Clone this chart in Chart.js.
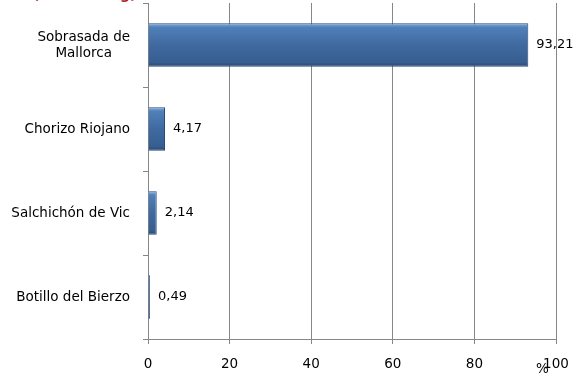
<!DOCTYPE html>
<html>
<head>
<meta charset="utf-8">
<script src="https://cdn.jsdelivr.net/npm/chart.js@4/dist/chart.umd.min.js"></script>
<style>
  html, body { margin:0; padding:0; background:#fff; }
  #wrap { width:574px; height:374px; position:relative; }
</style>
</head>
<body>
<div id="wrap"><canvas id="chart"></canvas></div>
<script>
const categories = [['Sobrasada de', 'Mallorca'], 'Chorizo Riojano', 'Salchichón de Vic', 'Botillo del Bierzo'];
const values     = [93.21, 4.17, 2.14, 0.49];
const xTicks     = [0, 20, 40, 60, 80, 100];
const titleText  = '(miles de kg)';
const unitText   = '%';

const FONT = 'DejaVu Sans';
const GRID = '#878787';
const BAR_PCT = 0.52;

// bevel-ish vertical gradient for each bar, built from the category scale
function barFill(c) {
  const chart = c.chart, ys = chart.scales.y;
  if (!chart.chartArea || !ys || c.dataIndex == null) return '#3D6699';
  const cy = ys.getPixelForValue(c.dataIndex);
  const half = ys.height / categories.length * BAR_PCT / 2;
  const g = chart.ctx.createLinearGradient(0, cy - half, 0, cy + half);
  g.addColorStop(0, '#86ACDB');
  g.addColorStop(0.1, '#5080B8');
  g.addColorStop(0.5, '#4069A0');
  g.addColorStop(0.9, '#365E90');
  g.addColorStop(1, '#27466E');
  return g;
}

// value labels, y labels (centred multi-line, right edge fixed), title fragment and unit
const textPlugin = {
  id: 'texts',
  afterDraw(chart) {
    const c = chart.ctx;
    const ys = chart.scales.y, xs = chart.scales.x;
    c.save();
    c.fillStyle = '#000';
    c.textBaseline = 'middle';

    c.font = `13px "${FONT}"`;
    c.textAlign = 'left';
    chart.getDatasetMeta(0).data.forEach((el, i) => {
      c.fillText(values[i].toFixed(2).replace('.', ','), el.x + 8, el.y);
    });

    c.font = `13.5px "${FONT}"`;
    const right = ys.right - 18;
    c.textAlign = 'center';
    categories.forEach((lab, i) => {
      const lines = Array.isArray(lab) ? lab : [lab];
      const w = Math.max(...lines.map(l => c.measureText(l).width));
      const cy = ys.getPixelForTick(i);
      const lh = 16;
      lines.forEach((l, k) => c.fillText(l, right - w / 2, cy + (k - (lines.length - 1) / 2) * lh));
    });

    c.textAlign = 'left';
    c.fillText(unitText, xs.right - 20, chart.height - 5);

    c.fillStyle = '#A8282A';
    c.font = `bold 14px "${FONT}"`;
    c.textBaseline = 'alphabetic';
    c.fillText(titleText, 33, -1);
    c.restore();
  }
};

new Chart(document.getElementById('chart'), {
  type: 'bar',
  data: {
    labels: categories,
    datasets: [{
      data: values,
      backgroundColor: barFill,
      borderColor: '#2A4A73',
      borderWidth: 1,
      barPercentage: BAR_PCT,
      categoryPercentage: 1
    }]
  },
  options: {
    indexAxis: 'y',
    responsive: true, maintainAspectRatio: false,
    animation: false,
    layout: { padding: { top: 3, right: 18, left: 0, bottom: 0 } },
    plugins: { legend: { display: false }, tooltip: { enabled: false }, title: { display: false } },
    scales: {
      x: {
        min: 0, max: 100,
        afterBuildTicks: s => { s.ticks = xTicks.map(v => ({ value: v })); },
        afterFit: s => { s.height = 35; s.paddingLeft = 0; s.paddingRight = 0; },
        border: { color: GRID, width: 1 },
        grid: { color: GRID, lineWidth: 1, tickLength: 5, drawTicks: true },
        ticks: { color: '#000', font: { family: FONT, size: 13.5 }, padding: 12, maxRotation: 0 }
      },
      y: {
        afterFit: s => { s.width = 148; },
        border: { color: GRID, width: 1 },
        grid: { color: GRID, drawOnChartArea: false, tickLength: 5, offset: true },
        ticks: { display: false }
      }
    }
  },
  plugins: [textPlugin]
});
</script>
</body>
</html>
